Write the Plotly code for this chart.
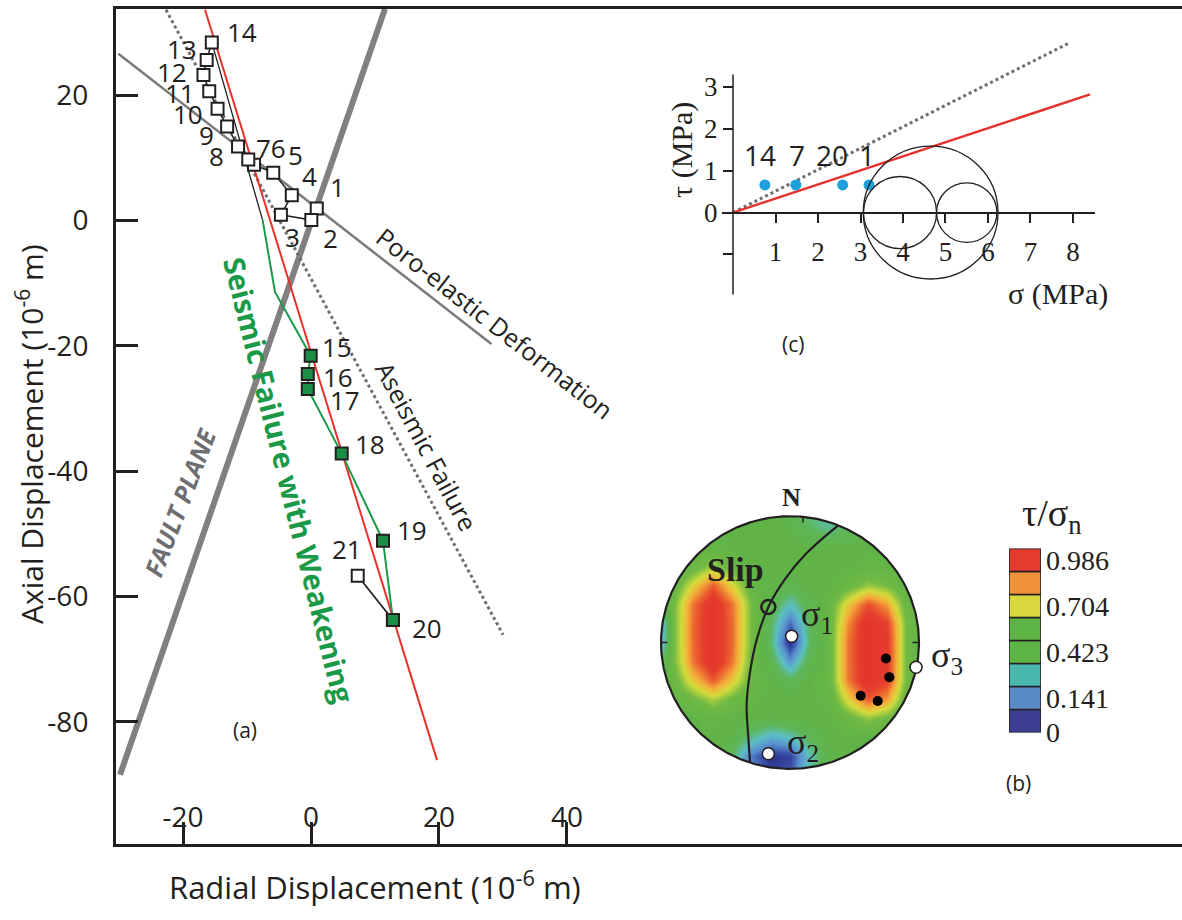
import numpy as np
import plotly.graph_objects as go

W, H = 1182, 920
INK = '#231f20'
SANS = 'Open Sans'
SERIF = 'Liberation Serif'

# ---------------- (a) displacement data ----------------
open_ids = ['1', '2', '3', '4', '5', '6', '7', '8', '9', '10', '11', '12', '13', '14']
open_radial = [0.9, 0.05, -4.7, -3.0, -5.9, -8.9, -9.8, -11.4, -13.1, -14.6, -15.9, -16.8, -16.3, -15.5]
open_axial = [1.9, 0.05, 0.9, 4.0, 7.6, 8.9, 9.7, 11.8, 15.0, 17.8, 20.6, 23.2, 25.6, 28.4]

seis_ids = ['15', '16', '17', '18', '19', '20']
seis_radial = [-0.05, -0.5, -0.5, 4.8, 11.25, 12.8]
seis_axial = [-21.6, -24.5, -26.9, -37.2, -51.1, -63.75]

last_ids = ['20', '21']
last_radial = [12.8, 7.3]
last_axial = [-63.75, -56.7]

green_path_radial = [-7.55, -5.63] + seis_radial
green_path_axial = [0.0, -11.4] + seis_axial
link_radial = [-15.5, -7.55]
link_axial = [28.4, 0.0]

fault_radial = [-29.84, 11.56]
fault_axial = [-88.44, 33.75]
poro_radial = [-30.1, 28.2]
poro_axial = [26.6, -19.7]
aseis_radial = [-22.66, 30.0]
aseis_axial = [33.6, -66.1]
red_radial = [-16.56, 19.69]
red_axial = [33.6, -86.1]

# label positions (data coords) for point numbers
lab_text = ['14', '13', '12', '11', '10', '9', '8', '76', '5', '4', '1', '3', '2',
            '15', '16', '17', '18', '19', '21', '20']
lab_x = [-10.83, -20.2, -21.77, -20.47, -19.17, -16.4, -14.73, -6.25, -2.5, -0.16, 4.17, -2.86, 2.97,
         4.02, 4.22, 5.31, 9.22, 15.73, 5.58, 18.08]
lab_y = [30.0, 27.4, 23.75, 20.36, 17.03, 13.6, 10.2, 11.56, 10.47, 7.08, 5.31, -2.66, -2.81,
         -20.27, -24.95, -28.6, -35.6, -49.4, -52.5, -65.0]

x_ticks = [-20, 0, 20, 40]
x_ticktext = ['-20', '0', '20', '40']
y_ticks = [-80, -60, -40, -20, 0, 20]
y_ticktext = ['-80', '-60', '-40', '-20', '0', '20']

# ---------------- (c) Mohr diagram ----------------
mohr_sigma = [0.75, 1.48, 2.58, 3.2]
mohr_tau = [0.66, 0.66, 0.66, 0.66]
mohr_ids = ['14', '7', '20', '1']
mohr_id_sigma = [0.635, 1.51, 2.33, 3.15]
mohr_id_tau = [1.38, 1.38, 1.38, 1.38]
fric_red_sigma = [0, 8.4]
fric_red_tau = [0, 2.82]
fric_dot_sigma = [0, 7.88]
fric_dot_tau = [0, 4.03]
circle_centers = [4.65, 3.93, 5.5]
circle_radii = [1.585, 0.86, 0.71]
sigma_ticks = [1, 2, 3, 4, 5, 6, 7, 8]
tau_ticks = [-1, 0, 1, 2, 3]
tau_ticktext = ['', '0', '1', '2', '3']

# ---------------- (b) stereonet ----------------
grid_u = [-1.05, -0.9, -0.75, -0.6, -0.45, -0.3, -0.15, 0.0, 0.15, 0.3, 0.45, 0.6, 0.75, 0.9, 1.05]
grid_v_top_down = [1.05, 0.9, 0.75, 0.6, 0.45, 0.3, 0.15, 0.0, -0.15, -0.3, -0.45, -0.6, -0.75, -0.9, -1.05]
ratio_rows_top_down = [
    [0.5, 0.5, 0.5, 0.5, 0.5, 0.5, 0.5, 0.45, 0.35, 0.3, 0.35, 0.45, 0.5, 0.5, 0.5],
    [0.5, 0.5, 0.5, 0.5, 0.5, 0.5, 0.5, 0.48, 0.4, 0.35, 0.4, 0.48, 0.5, 0.5, 0.5],
    [0.5, 0.5, 0.5, 0.52, 0.5, 0.5, 0.5, 0.5, 0.5, 0.5, 0.5, 0.5, 0.5, 0.5, 0.5],
    [0.5, 0.5, 0.55, 0.65, 0.55, 0.5, 0.5, 0.5, 0.5, 0.5, 0.5, 0.52, 0.52, 0.5, 0.5],
    [0.5, 0.54, 0.72, 0.88, 0.72, 0.54, 0.5, 0.45, 0.5, 0.5, 0.56, 0.64, 0.6, 0.52, 0.5],
    [0.5, 0.6, 0.85, 1.0, 0.85, 0.6, 0.45, 0.3, 0.45, 0.54, 0.74, 0.9, 0.8, 0.56, 0.5],
    [0.05, 0.6, 0.86, 1.0, 0.86, 0.6, 0.4, 0.12, 0.4, 0.55, 0.82, 1.0, 0.93, 0.6, 0.5],
    [0.05, 0.6, 0.86, 1.0, 0.86, 0.6, 0.38, 0.0, 0.38, 0.55, 0.85, 1.0, 0.95, 0.6, 0.45],
    [0.3, 0.6, 0.85, 1.0, 0.85, 0.58, 0.45, 0.2, 0.45, 0.55, 0.85, 1.0, 0.95, 0.6, 0.45],
    [0.5, 0.56, 0.74, 0.88, 0.74, 0.56, 0.5, 0.42, 0.5, 0.55, 0.84, 1.0, 0.93, 0.6, 0.5],
    [0.5, 0.52, 0.58, 0.66, 0.58, 0.52, 0.5, 0.5, 0.5, 0.52, 0.72, 0.88, 0.8, 0.55, 0.5],
    [0.5, 0.5, 0.5, 0.52, 0.5, 0.5, 0.47, 0.5, 0.5, 0.5, 0.56, 0.63, 0.58, 0.5, 0.5],
    [0.5, 0.5, 0.5, 0.5, 0.48, 0.35, 0.25, 0.3, 0.42, 0.5, 0.5, 0.5, 0.5, 0.5, 0.5],
    [0.5, 0.5, 0.5, 0.5, 0.4, 0.15, 0.02, 0.05, 0.3, 0.48, 0.5, 0.5, 0.5, 0.5, 0.5],
    [0.5, 0.5, 0.5, 0.5, 0.42, 0.2, 0.05, 0.1, 0.35, 0.5, 0.5, 0.5, 0.5, 0.5, 0.5],
]
fault_trace_u = [0.374, 0.129, -0.039, -0.168, -0.258, -0.310, -0.336, -0.323, -0.310]
fault_trace_v = [0.928, 0.708, 0.502, 0.281, 0.023, -0.235, -0.494, -0.752, -0.946]
slip_u, slip_v = [-0.168], [0.281]
stress_u = [0.013, -0.168, 0.977]
stress_v = [0.049, -0.881, -0.196]
pole_u = [0.744, 0.770, 0.548, 0.680]
pole_v = [-0.126, -0.274, -0.421, -0.463]

ratio_scale = [[0.0, '#2b2c86'], [0.08, '#3a4fa8'], [0.18, '#5a8fd0'], [0.3, '#5cc0c4'],
               [0.4, '#5eb65a'], [0.5, '#60b447'], [0.6, '#72ba44'], [0.7, '#d4dc3c'],
               [0.78, '#f4b03a'], [0.87, '#ec6230'], [0.93, '#e63d2d'], [1.0, '#e2362c']]

# colour key boxes (bottom to top)
key_colors = ['#3c3f93', '#5b8bc7', '#4bb8ae', '#5fb446', '#5fb446', '#d6d83b', '#f0923a', '#e33b2f']
key_labels = ['0', '0.141', '0.423', '0.704', '0.986']
key_label_pos = [0, 1.5, 3.5, 5.5, 7.5]

fig = go.Figure()

# ---- (a) traces ----
fig.add_trace(go.Scatter(x=fault_radial, y=fault_axial, mode='lines',
                         line=dict(color='#808080', width=6), xaxis='x', yaxis='y'))
fig.add_trace(go.Scatter(x=poro_radial, y=poro_axial, mode='lines',
                         line=dict(color='#7b7b7b', width=2.5)))
fig.add_trace(go.Scatter(x=aseis_radial, y=aseis_axial, mode='lines',
                         line=dict(color='#6d6e71', width=3, dash='dot')))
fig.add_trace(go.Scatter(x=link_radial, y=link_axial, mode='lines',
                         line=dict(color=INK, width=1.3)))
fig.add_trace(go.Scatter(x=red_radial, y=red_axial, mode='lines',
                         line=dict(color='#e8312a', width=2)))
fig.add_trace(go.Scatter(x=green_path_radial, y=green_path_axial, mode='lines',
                         line=dict(color='#1a9a48', width=2)))
fig.add_trace(go.Scatter(x=open_radial, y=open_axial, mode='lines+markers',
                         line=dict(color=INK, width=1.5),
                         marker=dict(symbol='square', size=12, color='white',
                                     line=dict(color=INK, width=2))))
fig.add_trace(go.Scatter(x=last_radial, y=last_axial, mode='lines+markers',
                         line=dict(color=INK, width=1.8),
                         marker=dict(symbol='square', size=12, color=['#1a8f45', 'white'],
                                     line=dict(color=INK, width=2))))
fig.add_trace(go.Scatter(x=seis_radial, y=seis_axial, mode='markers',
                         marker=dict(symbol='square', size=12, color='#1a8f45',
                                     line=dict(color=INK, width=2))))

# ---- (c) traces ----
fig.add_trace(go.Scatter(x=fric_dot_sigma, y=fric_dot_tau, mode='lines', xaxis='x2', yaxis='y2',
                         line=dict(color='#6d6e71', width=3, dash='dot')))
fig.add_trace(go.Scatter(x=fric_red_sigma, y=fric_red_tau, mode='lines', xaxis='x2', yaxis='y2',
                         line=dict(color='#e8312a', width=2.5)))
fig.add_trace(go.Scatter(x=mohr_sigma, y=mohr_tau, mode='markers', xaxis='x2', yaxis='y2',
                         marker=dict(color='#1ea0dc', size=11)))

# ---- (b) stereonet ----
fig.add_trace(go.Heatmap(x=grid_u, y=grid_v_top_down[::-1], z=ratio_rows_top_down[::-1],
                         zmin=0, zmax=1, colorscale=ratio_scale, zsmooth='best',
                         showscale=False, xaxis='x3', yaxis='y3', hoverinfo='skip'))
# white mask outside the net (two overlapping halves)
ang_top = np.linspace(np.pi + 0.06, -0.06, 200)
top_x = [-1.4] + list(np.cos(ang_top)) + [1.4, 1.4, -1.4]
top_y = [-0.06] + list(np.sin(ang_top)) + [-0.06, 1.4, 1.4]
fig.add_trace(go.Scatter(x=top_x, y=top_y, mode='lines', fill='toself', fillcolor='white',
                         line=dict(width=0, color='white'), xaxis='x3', yaxis='y3', hoverinfo='skip'))
fig.add_trace(go.Scatter(x=top_x, y=[-v for v in top_y], mode='lines', fill='toself', fillcolor='white',
                         line=dict(width=0, color='white'), xaxis='x3', yaxis='y3', hoverinfo='skip'))
ang = np.linspace(0, 2 * np.pi, 361)
fig.add_trace(go.Scatter(x=np.cos(ang), y=np.sin(ang), mode='lines', xaxis='x3', yaxis='y3',
                         line=dict(color=INK, width=2.2), hoverinfo='skip'))
fig.add_trace(go.Scatter(x=[0.1, 0.1, None, -1, -0.95, None, 1, 0.95],
                         y=[0.995, 0.95, None, 0, 0, None, 0, 0], mode='lines', xaxis='x3', yaxis='y3',
                         line=dict(color=INK, width=1.5), hoverinfo='skip'))
fig.add_trace(go.Scatter(x=fault_trace_u, y=fault_trace_v, mode='lines', xaxis='x3', yaxis='y3',
                         line=dict(color=INK, width=2.2, shape='spline')))
fig.add_trace(go.Scatter(x=slip_u, y=slip_v, mode='markers', xaxis='x3', yaxis='y3',
                         marker=dict(symbol='circle-open', size=14, color=INK, line=dict(width=2.5))))
fig.add_trace(go.Scatter(x=pole_u, y=pole_v, mode='markers', xaxis='x3', yaxis='y3',
                         marker=dict(color='black', size=10)))
fig.add_trace(go.Scatter(x=stress_u, y=stress_v, mode='markers', xaxis='x3', yaxis='y3',
                         marker=dict(color='white', size=12, line=dict(color=INK, width=1.5))))

# colour key
fig.add_trace(go.Bar(x=[0] * len(key_colors), y=[1] * len(key_colors), base=list(range(len(key_colors))),
                     width=1, marker=dict(color=key_colors, line=dict(color=INK, width=1.5)),
                     xaxis='x4', yaxis='y4', hoverinfo='skip'))

# ---------------- layout ----------------
def py(p):
    return 1 - p / H

noaxis = dict(visible=False, showgrid=False, zeroline=False)

fig.update_layout(
    width=W, height=H, margin=dict(l=0, r=0, t=0, b=0),
    paper_bgcolor='white', plot_bgcolor='rgba(0,0,0,0)', showlegend=False,
    font=dict(family=SANS, color=INK),
    xaxis=dict(domain=[116 / W, 1], range=[-30.47, 136.1], tickvals=x_ticks, ticktext=x_ticktext,
               ticks='inside', ticklen=22, tickwidth=3, tickcolor=INK,
               ticklabelposition='inside', ticklabelstandoff=-8,
               showline=True, linewidth=3, linecolor=INK, mirror=True,
               showgrid=False, zeroline=False, tickfont=dict(family=SANS, size=28, color=INK), anchor='y'),
    yaxis=dict(domain=[py(859), py(6)], range=[-99.53, 33.75], tickvals=y_ticks, ticktext=y_ticktext,
               ticks='inside', ticklen=22, tickwidth=3, tickcolor=INK, ticklabelstandoff=19,
               showline=True, linewidth=3, linecolor=INK, mirror=False,
               showgrid=False, zeroline=False, tickfont=dict(family=SANS, size=28, color=INK), anchor='x'),
    xaxis2=dict(domain=[722 / W, 1095 / W], range=[-0.259, 8.518], anchor='free', position=py(214),
                tickvals=sigma_ticks, ticks='outside', ticklen=10, tickwidth=1.5, tickcolor=INK,
                ticklabelstandoff=5,
                showline=True, linewidth=1.5, linecolor=INK, showgrid=False, zeroline=False,
                tickfont=dict(family=SERIF, size=27, color=INK)),
    yaxis2=dict(domain=[py(298), py(35)], range=[-1.963, 4.182], anchor='free', position=733 / W,
                tickvals=tau_ticks, ticktext=tau_ticktext, ticks='outside', ticklen=10, tickwidth=1.5,
                tickcolor=INK, ticklabelstandoff=0,
                showline=False, showgrid=False, zeroline=False,
                tickfont=dict(family=SERIF, size=27, color=INK)),
    xaxis3=dict(domain=[628.75 / W, 951.25 / W], range=[-1.25, 1.25], anchor='y3', **noaxis),
    yaxis3=dict(domain=[py(814.25), py(491.75)], range=[-1.25, 1.25], anchor='x3', **noaxis),
    xaxis4=dict(domain=[1009 / W, 1041 / W], range=[-0.5, 0.5], anchor='y4', **noaxis),
    yaxis4=dict(domain=[py(745), py(557)], range=[0, 8], anchor='x4', side='right',
                tickvals=key_label_pos, ticktext=key_labels, ticks='', showline=False,
                showgrid=False, zeroline=False, ticklabelstandoff=4,
                tickfont=dict(family=SERIF, size=28, color=INK)),
)

shapes = [dict(type='line', xref='x2', yref='y2', x0=0, x1=0, y0=-1.963, y1=3.294,
               line=dict(color=INK, width=1.5))]
for c, r in zip(circle_centers, circle_radii):
    shapes.append(dict(type='circle', xref='x2', yref='y2', x0=c - r, x1=c + r, y0=-r, y1=r,
                       line=dict(color=INK, width=1.3)))
fig.update_layout(shapes=shapes)

ann = []
for t, x, y in zip(lab_text, lab_x, lab_y):
    ann.append(dict(text=t, x=x, y=y, xref='x', yref='y', showarrow=False,
                    xanchor='center', yanchor='middle',
                    font=dict(family=SANS, size=26, color=INK)))
for t, x, y in zip(mohr_ids, mohr_id_sigma, mohr_id_tau):
    ann.append(dict(text=t, x=x, y=y, xref='x2', yref='y2', showarrow=False,
                    xanchor='center', yanchor='middle',
                    font=dict(family=SANS, size=28, color=INK)))


def pa(text, x, y, size, family=SANS, color=INK, angle=0):
    ann.append(dict(text=text, x=x / W, y=py(y), xref='paper', yref='paper', showarrow=False,
                    xanchor='center', yanchor='middle',
                    textangle=angle, font=dict(family=family, size=size, color=color)))


pa('Radial Displacement (10<sup>-6</sup> m)', 375, 901, 31)
pa('Axial Displacement (10<sup>-6</sup> m)', 30, 440, 30, angle=-90)
pa('(a)', 245, 742, 21)
pa('<b><i>FAULT PLANE</i></b>', 180, 510, 25, color='#6d6e71', angle=-69)
pa('<b>Seismic Failure with Weakening</b>', 289, 487, 29, color='#1a9a48', angle=76)
pa('Poro-elastic Deformation', 495, 327, 25, angle=38)
pa('Aseismic Failure', 427, 452, 25, angle=62)
pa('τ (MPa)', 682, 150, 30, family=SERIF, angle=-90)
pa('σ (MPa)', 1058, 297, 30, family=SERIF)
pa('(c)', 793, 348, 21)
pa('(b)', 1018, 796, 21)
pa('τ/σ<sub>n</sub>', 1052, 524, 38, family=SERIF)


def sa(text, u, v, size, bold=False):
    ann.append(dict(text=('<b>%s</b>' % text) if bold else text, x=u, y=v, xref='x3', yref='y3',
                    showarrow=False, xanchor='center', yanchor='middle',
                    font=dict(family=SERIF, size=size, color=INK)))


sa('N', 0.013, 1.147, 26, bold=True)
sa('Slip', -0.426, 0.579, 34, bold=True)
sa('σ<sub>1</sub>', 0.207, 0.204, 36)
sa('σ<sub>2</sub>', 0.103, -0.804, 36)
sa('σ<sub>3</sub>', 1.215, -0.119, 36)

fig.update_layout(annotations=ann)

fig.write_html("out.html", config={'displayModeBar': False},
               post_script="document.body.style.margin='0';")
